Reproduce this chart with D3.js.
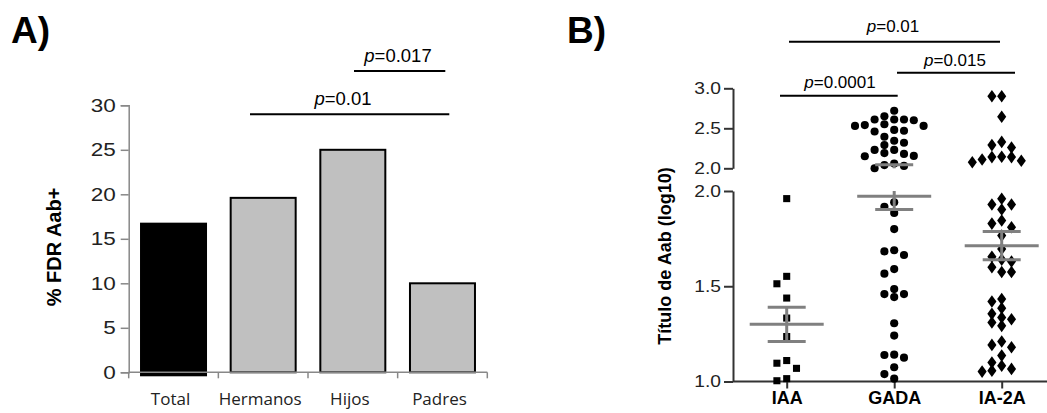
<!DOCTYPE html>
<html>
<head>
<meta charset="utf-8">
<script src="https://cdn.jsdelivr.net/npm/d3@7"></script>
<style>
  body { margin: 0; background: #fff; }
  svg { display: block; font-family: Arial, "Liberation Sans", sans-serif; }
</style>
</head>
<body>
<div id="chart"></div>
<script>
// Panel A data
const groupsA = ["Total", "Hermanos", "Hijos", "Padres"];
const pctA = [16.7, 19.6, 25, 10];
const ticksA = [0, 5, 10, 15, 20, 25, 30];

// Panel B data (log10 titers)
const groupsB = ["IAA", "GADA", "IA-2A"];
const iaa = [1.96, 1.552, 1.513, 1.438, 1.333, 1.236, 1.096, 1.11, 1.069, 1.015, 1.004];
const gada = [2.72, 2.65, 2.61, 2.61, 2.60, 2.61, 2.55, 2.53, 2.53, 2.54, 2.46, 2.48, 2.47,
  2.395, 2.32, 2.345, 2.29, 2.23, 2.18, 2.15, 2.155, 2.19, 2.23, 2.06, 2.03, 2.0, 2.04,
  1.941, 1.917, 1.885, 1.80, 1.683, 1.664, 1.689, 1.566, 1.59, 1.485, 1.459, 1.443, 1.459,
  1.306, 1.241, 1.141, 1.125, 1.139, 1.075, 1.039, 1.015];
const ia2a = [2.90, 2.90, 2.645, 2.33, 2.26, 2.29, 2.14, 2.14, 2.095, 2.075, 2.11, 2.145,
  1.959, 1.929, 1.929, 1.903, 1.81, 1.829, 1.845, 1.766, 1.696,
  1.64, 1.63, 1.655, 1.60, 1.575, 1.575,
  1.433, 1.42, 1.385, 1.355, 1.336, 1.31, 1.292, 1.327,
  1.21, 1.18, 1.192, 1.136, 1.10, 1.066, 1.052, 1.057, 1.083];
const meansB = [1.30, 1.973, 1.713];
const semB = [0.09, 0.07, 0.074];
const lowTicks = [1.0, 1.5, 2.0];
const highTicks = [2.0, 2.5, 3.0];

const svg = d3.select("#chart").append("svg")
  .attr("width", 1047)
  .attr("height", 413);

// widen tick labels a little, like the source image
function stretch(sel, sx) {
  sel.each(function () {
    const t = d3.select(this);
    const x = +t.attr("x") || 0;
    t.attr("transform", `translate(${x},0) scale(${sx},1)`).attr("x", 0);
  });
}

// ---------- Panel A ----------
const xA = d3.scaleBand()
  .domain(groupsA)
  .range([128.7, 487.3])
  .paddingInner(0.275)
  .paddingOuter(0.1375);

const yA = d3.scaleLinear()
  .domain([0, 30])
  .range([372.3, 105.3]);

svg.append("text")
  .attr("x", 11).attr("y", 43)
  .attr("font-size", 37).attr("font-weight", "bold")
  .text("A)");

// bars
svg.append("g").selectAll("rect")
  .data(groupsA)
  .enter()
  .append("rect")
  .attr("x", d => xA(d))
  .attr("y", (d, i) => yA(pctA[i]))
  .attr("width", xA.bandwidth())
  .attr("height", (d, i) => yA(0) - yA(pctA[i]) + (i === 0 ? 3 : 0))
  .attr("fill", (d, i) => i === 0 ? "#000" : "#c0c0c0")
  .attr("stroke", "#000")
  .attr("stroke-width", 2);

// y axis
const yAxisA = svg.append("g")
  .attr("transform", "translate(128.7,0)")
  .call(d3.axisLeft(yA).tickValues(ticksA).tickSize(8).tickPadding(5));
yAxisA.select(".domain").attr("stroke", "#888").attr("stroke-width", 1.5);
yAxisA.selectAll(".tick line").attr("stroke", "#888").attr("stroke-width", 1.5);
yAxisA.selectAll(".tick text")
  .attr("font-size", 18).attr("fill", "#222")
  .attr("font-family", "Arial, 'Liberation Sans', sans-serif")
  .call(stretch, 1.25);

// x axis with ticks at band edges
const edgesA = d3.range(groupsA.length + 1).map(i => xA.range()[0] + i * xA.step());
svg.append("line")
  .attr("x1", edgesA[0]).attr("x2", edgesA[edgesA.length - 1])
  .attr("y1", yA(0)).attr("y2", yA(0))
  .attr("stroke", "#888").attr("stroke-width", 1.5);
svg.append("g").selectAll("line")
  .data(edgesA)
  .enter()
  .append("line")
  .attr("x1", d => d).attr("x2", d => d)
  .attr("y1", yA(0)).attr("y2", yA(0) + 6)
  .attr("stroke", "#888").attr("stroke-width", 1.5);
svg.append("g").selectAll("text")
  .data(groupsA)
  .enter()
  .append("text")
  .attr("x", d => xA(d) + xA.bandwidth() / 2 - 3)
  .attr("y", 405)
  .attr("text-anchor", "middle")
  .attr("font-family", "'Open Sans', sans-serif")
  .attr("font-size", 17)
  .attr("fill", "#222")
  .text(d => d);

svg.append("text")
  .attr("transform", "translate(61,247) rotate(-90)")
  .attr("text-anchor", "middle")
  .attr("font-size", 20).attr("font-weight", "bold")
  .text("% FDR Aab+");

// significance lines
function pLabel(x, y, txt, size) {
  const t = svg.append("text")
    .attr("x", x).attr("y", y)
    .attr("text-anchor", "middle")
    .attr("font-size", size);
  t.append("tspan").attr("font-style", "italic").text("p");
  t.append("tspan").text(txt);
}
svg.append("line").attr("x1", 250).attr("x2", 449.3).attr("y1", 114.3).attr("y2", 114.3)
  .attr("stroke", "#000").attr("stroke-width", 2);
pLabel(343, 105, "=0.01", 18.5);
svg.append("line").attr("x1", 354).attr("x2", 445.3).attr("y1", 71).attr("y2", 71)
  .attr("stroke", "#000").attr("stroke-width", 2);
pLabel(398, 62, "=0.017", 18.5);

// ---------- Panel B ----------
svg.append("text")
  .attr("x", 567).attr("y", 43)
  .attr("font-size", 37).attr("font-weight", "bold")
  .text("B)");

const xB = d3.scalePoint()
  .domain(groupsB)
  .range([786.7, 1001.7]);
const yLow = d3.scaleLinear().domain([1, 2]).range([381.5, 191]);
const yHigh = d3.scaleLinear().domain([2, 3]).range([168.3, 88.3]);
const yB = v => v >= 2 ? yHigh(v) : yLow(v);
const axisX = 733;

const yAxLow = svg.append("g")
  .attr("transform", `translate(${axisX},0)`)
  .call(d3.axisLeft(yLow).tickValues(lowTicks).tickFormat(d3.format(".1f")).tickSize(9).tickPadding(3).tickSizeOuter(0));
const yAxHigh = svg.append("g")
  .attr("transform", `translate(${axisX},0)`)
  .call(d3.axisLeft(yHigh).tickValues(highTicks).tickFormat(d3.format(".1f")).tickSize(9).tickPadding(3).tickSizeOuter(0));
[yAxLow, yAxHigh].forEach(g => {
  g.select(".domain").attr("stroke", "#333").attr("stroke-width", 2);
  g.selectAll(".tick line").attr("stroke", "#333").attr("stroke-width", 2);
  g.selectAll(".tick text").attr("font-size", 16).attr("fill", "#222")
    .attr("font-family", "Arial, 'Liberation Sans', sans-serif")
    .call(stretch, 1.2);
});

const xAxB = svg.append("g")
  .attr("transform", `translate(0,${yLow(1)})`)
  .call(d3.axisBottom(xB).tickSize(7).tickPadding(3).tickSizeOuter(0));
xAxB.select(".domain").attr("d", `M${axisX},0H1047`).attr("stroke", "#333").attr("stroke-width", 2);
xAxB.selectAll(".tick line").attr("stroke", "#333").attr("stroke-width", 2);
xAxB.selectAll(".tick text").attr("font-size", 18).attr("font-weight", "bold").attr("fill", "#000")
  .attr("font-family", "Arial, 'Liberation Sans', sans-serif");

svg.append("text")
  .attr("transform", "translate(671,256) rotate(-90)")
  .attr("text-anchor", "middle")
  .attr("font-size", 18).attr("font-weight", "bold")
  .text("Título de Aab (log10)");

// simple beeswarm: slot offsets computed from pixel y
function swarm(values, step, minGap) {
  const pts = values.map(v => ({ v: v, y: yB(v) }));
  const sorted = pts.slice().sort((a, b) => a.y - b.y);
  const placed = [];
  sorted.forEach(p => {
    for (let k = 0; k < 20; k++) {
      const slot = k === 0 ? 0 : (k % 2 === 1 ? -Math.ceil(k / 2) : Math.ceil(k / 2));
      const clash = placed.some(q => q.slot === slot && Math.abs(q.y - p.y) < minGap);
      if (!clash) { p.slot = slot; placed.push(p); break; }
    }
  });
  return pts.map(p => ({ v: p.v, y: p.y, dx: p.slot * step }));
}

const seriesB = [iaa, gada, ia2a];
const symbols = [d3.symbolSquare, d3.symbolCircle, d3.symbolDiamond];
const symSize = [50, 52, 46];

seriesB.forEach((vals, gi) => {
  const cx = xB(groupsB[gi]);
  const pts = swarm(vals, 9.8, 8);
  svg.append("g").selectAll("path")
    .data(pts)
    .enter()
    .append("path")
    .attr("d", d3.symbol().type(symbols[gi]).size(symSize[gi]))
    .attr("transform", d => gi === 2
      ? `translate(${cx + d.dx},${d.y}) scale(1.25,1)`
      : `translate(${cx + d.dx},${d.y})`)
    .attr("fill", "#000");
});

// mean +/- SEM (grey), split over the broken axis
function vSeg(x, lo, hi) {
  const segs = [];
  if (lo < 2) segs.push([yLow(lo), yLow(Math.min(hi, 2))]);
  if (hi > 2) segs.push([yHigh(Math.max(lo, 2)), yHigh(hi)]);
  segs.forEach(s => svg.append("line")
    .attr("x1", x).attr("x2", x).attr("y1", s[0]).attr("y2", s[1])
    .attr("stroke", "#808080").attr("stroke-width", 3));
}
groupsB.forEach((g, i) => {
  const cx = xB(g);
  const m = meansB[i], s = semB[i];
  vSeg(cx, m - s, m + s);
  svg.append("line")
    .attr("x1", cx - 37).attr("x2", cx + 37)
    .attr("y1", yB(m)).attr("y2", yB(m))
    .attr("stroke", "#808080").attr("stroke-width", 3);
  [m - s, m + s].forEach(v => svg.append("line")
    .attr("x1", cx - 19).attr("x2", cx + 19)
    .attr("y1", yB(v)).attr("y2", yB(v))
    .attr("stroke", "#808080").attr("stroke-width", 3));
});

svg.append("line").attr("x1", 789).attr("x2", 1000).attr("y1", 41.7).attr("y2", 41.7)
  .attr("stroke", "#000").attr("stroke-width", 2);
pLabel(893, 32, "=0.01", 17);
svg.append("line").attr("x1", 897).attr("x2", 1015).attr("y1", 72.7).attr("y2", 72.7)
  .attr("stroke", "#000").attr("stroke-width", 2);
pLabel(955, 66, "=0.015", 17);
svg.append("line").attr("x1", 780).attr("x2", 897.7).attr("y1", 95.7).attr("y2", 95.7)
  .attr("stroke", "#000").attr("stroke-width", 2);
pLabel(840, 88, "=0.0001", 17);
</script>
</body>
</html>
